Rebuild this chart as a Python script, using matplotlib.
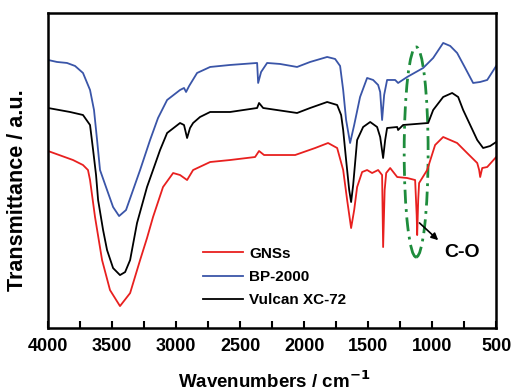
import matplotlib
matplotlib.use("Agg")
import matplotlib.pyplot as plt
from matplotlib.patches import Ellipse

plt.rcParams['font.family'] = ['Liberation Sans', 'DejaVu Sans']
plt.rcParams['font.weight'] = 'bold'
plt.rcParams['mathtext.default'] = 'bf'

# BP-2000 (blue)
bp_x = [4000, 3930, 3852, 3789, 3727, 3672, 3641, 3617, 3594, 3539, 3492, 3445, 3391, 3336, 3281,
        3203, 3141, 3070, 2969, 2938, 2922, 2898, 2836, 2734, 2578, 2367, 2359, 2336, 2289, 2188,
        2055, 1953, 1820, 1758, 1719, 1695, 1672, 1641, 1609, 1563, 1508, 1461, 1422, 1406, 1391,
        1375, 1352, 1289, 1266, 1195, 1070, 992, 914, 859, 805, 742, 680, 625, 570, 500]
bp_y = [268, 266, 265, 262, 255, 238, 218, 188, 158, 138, 121, 112, 118, 138, 158,
        188, 210, 228, 238, 240, 236, 242, 255, 261, 263, 265, 245, 256, 265, 264,
        261, 266, 271, 269, 262, 238, 208, 185, 203, 231, 250, 248, 243, 236, 208,
        233, 248, 248, 245, 251, 260, 270, 285, 282, 275, 260, 245, 246, 248, 262]

# Vulcan XC-72 (black)
vc_x = [4000, 3828, 3727, 3672, 3648, 3625, 3609, 3570, 3539, 3492, 3438, 3398, 3359, 3305, 3266,
        3227, 3180, 3125, 3070, 2969, 2938, 2914, 2891, 2867, 2813, 2734, 2578, 2367, 2352, 2320,
        2055, 1953, 1820, 1742, 1711, 1695, 1672, 1648, 1633, 1617, 1586, 1539, 1484, 1430, 1406,
        1383, 1367, 1352, 1273, 1266, 1227, 1031, 992, 914, 844, 797, 758, 703, 648, 602, 547, 500]
vc_y = [220, 216, 213, 203, 178, 153, 128, 98, 78, 60, 53, 56, 68, 105, 123,
        141, 158, 178, 195, 205, 203, 190, 200, 205, 211, 216, 216, 220, 225, 220,
        215, 220, 226, 223, 213, 198, 168, 138, 126, 143, 188, 201, 206, 201, 191,
        170, 188, 200, 201, 198, 203, 205, 218, 231, 235, 231, 218, 203, 188, 180, 182, 186]

# GNSs (red)
gn_x = [4000, 3805, 3727, 3688, 3672, 3633, 3578, 3516, 3438, 3359, 3281, 3227, 3180, 3102, 3023,
        2969, 2914, 2867, 2734, 2578, 2383, 2352, 2313, 2281, 2070, 1914, 1813, 1742, 1695, 1664,
        1633, 1609, 1586, 1547, 1508, 1469, 1422, 1391, 1383, 1371, 1359, 1328, 1273, 1195, 1133,
        1121, 1117, 1109, 1102, 1039, 977, 914, 805, 727, 648, 633, 625, 609, 570, 500]
gn_y = [177, 168, 163, 158, 148, 111, 68, 38, 22, 35, 68, 90, 111, 141, 155,
        153, 148, 158, 166, 168, 171, 177, 173, 173, 173, 180, 185, 180, 158, 128,
        100, 118, 141, 156, 158, 155, 158, 153, 81, 138, 155, 160, 151, 150, 148,
        113, 93, 128, 145, 158, 183, 191, 185, 175, 165, 158, 151, 160, 161, 171]

labels = ['GNSs', 'BP-2000', 'Vulcan XC-72']
colors = ['#e8201f', '#3a55a8', '#000000']
xticks = [4000, 3500, 3000, 2500, 2000, 1500, 1000, 500]

fig = plt.figure(figsize=(5.11, 3.92), dpi=100)
ax = fig.add_axes([0.094, 0.163, 0.877, 0.804])

ax.plot(gn_x, gn_y, color=colors[0], lw=1.3, label=labels[0])
ax.plot(bp_x, bp_y, color=colors[1], lw=1.3, label=labels[1])
ax.plot(vc_x, vc_y, color=colors[2], lw=1.3, label=labels[2])

ax.set_xlim(4000, 500)
ax.set_ylim(0, 315)
ax.set_xticks(xticks)
ax.set_xticks(range(3750, 500, -500), minor=True)
ax.set_yticks([])
ax.tick_params(axis='x', which='both', direction='in', length=5, width=1.5,
               labelsize=13, pad=7, top=False)
for s in ax.spines.values():
    s.set_linewidth(1.8)
for lab in ax.get_xticklabels():
    lab.set_fontweight('bold')

ax.set_xlabel('Wavenumbers / cm$^{-1}$', fontsize=13.5, fontweight='bold')
ax.xaxis.set_label_coords(0.505, -0.135)
ax.set_ylabel('Transmittance / a.u.', fontsize=15.5, fontweight='bold')
ax.yaxis.set_label_coords(-0.045, 0.438)

ell = Ellipse((1125, 176), width=187, height=210, fill=False, edgecolor='#1e8c3c',
              lw=2, linestyle=(0, (5, 2, 1, 2)))
ax.add_patch(ell)
ax.annotate('', xy=(937, 86), xytext=(1115, 107),
            arrowprops=dict(arrowstyle='-|>', color='black', lw=1.2, mutation_scale=10))
ax.text(766, 76, 'C-O', fontsize=14, fontweight='bold', ha='center', va='center')

ax.legend(loc='upper left', bbox_to_anchor=(0.346, 0.258), frameon=False, fontsize=11,
          handlelength=2.6, handletextpad=0.4, labelspacing=0.6, borderaxespad=0,
          borderpad=0)

fig.savefig('out.png', dpi=100)
